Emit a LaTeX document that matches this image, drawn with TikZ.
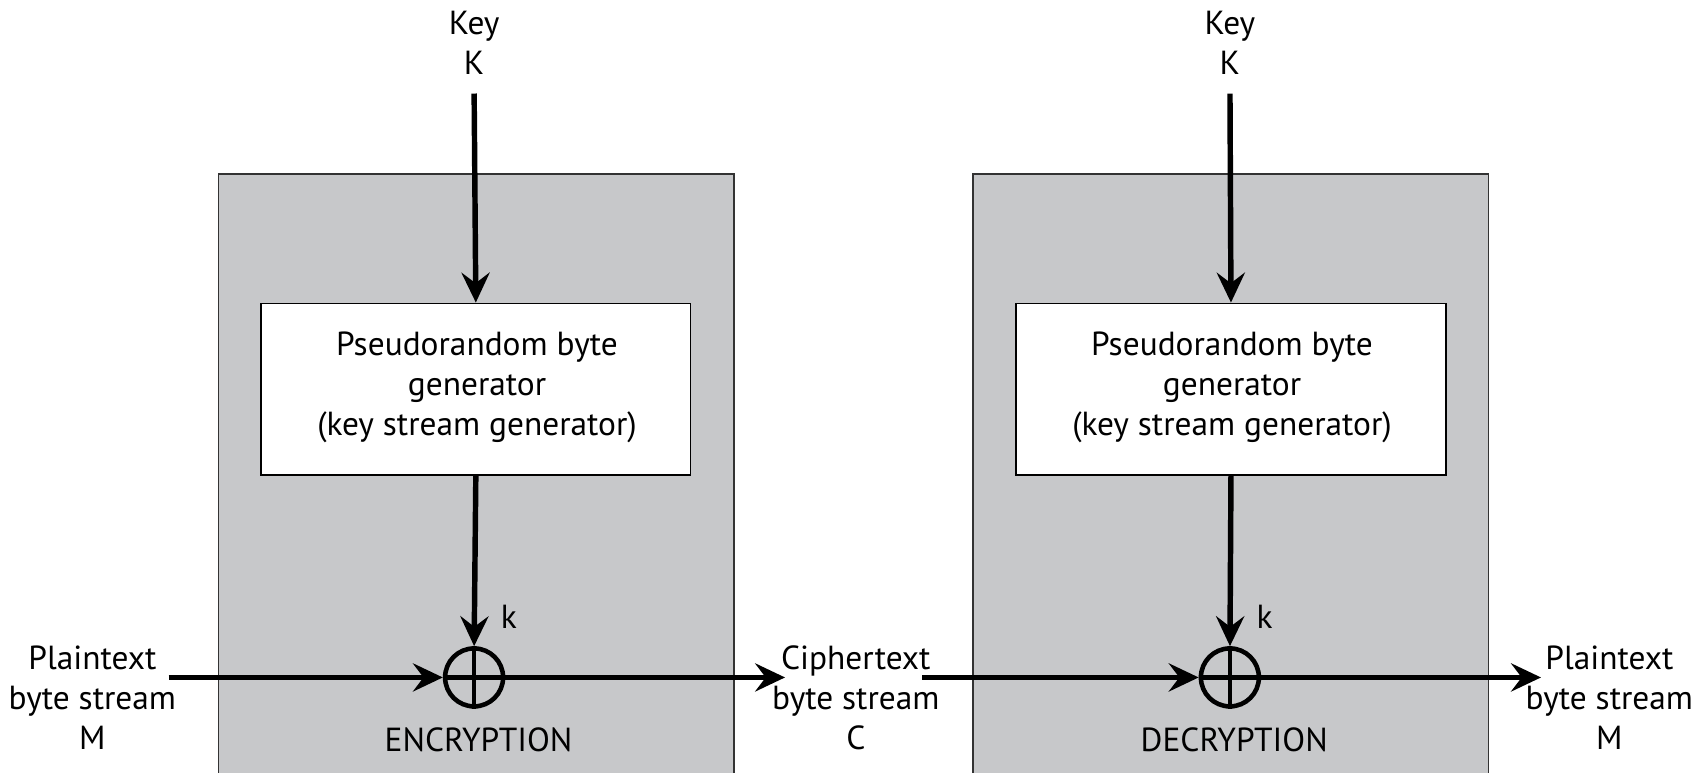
\documentclass[tikz,border=0pt]{standalone}
\usepackage{fontspec}
\setmainfont{PT Sans}
\usetikzlibrary{arrows.meta}
\definecolor{boxgray}{RGB}{199,200,202}

\begin{document}
\begin{tikzpicture}[scale=0.1,
    font=\fontsize{9.5}{11.4}\selectfont,
    flow/.style={line width=1.55pt,-{Stealth[length=8.5pt,width=8pt,inset=3pt]}},
    genbox/.style={draw,line width=0.5pt,fill=white,minimum width=4.295cm,minimum height=1.718cm,align=center},
    xorop/.style={draw,circle,line width=1.3pt,minimum size=0.58cm},
    lbl/.style={align=center}]
    \tikzstyle{every node}+=[inner sep=0pt]
    \useasboundingbox (0,0) rectangle (170.5,-77.2);
    % shaded units
    \filldraw [fill=boxgray,draw=black!80,line width=0.5pt] (21.86,-17.4) rectangle (73.4,-78);
    \filldraw [fill=boxgray,draw=black!80,line width=0.5pt] (97.32,-17.4) rectangle (148.86,-78);
    % encryption side
    \node [lbl] (keyE) at (47.41,-4.3) {Key\\K};
    \coordinate (keyEtop) at (47.41,-9.35);
    \node [genbox] (genE) at (47.58,-38.93) {};
    \node [lbl] at (47.7,-38.75) {Pseudorandom byte\\generator\\(key stream generator)};
    \node [xorop] (xorE) at (47.41,-67.74) {};
    \draw [line width=1.3pt] (xorE.north) -- (xorE.south) (xorE.west) -- (xorE.east);
    \node (kE) at (50.89,-61.66) {k};
    \node [lbl] (ptIn) at (9.24,-69.81) {Plaintext\\byte stream\\M};
    \coordinate (ptInEnd) at (16.85,-67.74);
    \node (encLbl) at (47.85,-73.94) {ENCRYPTION};
    \coordinate (ctEnd) at (78.5,-67.74);
    \node [lbl] (ct) at (85.58,-69.81) {Ciphertext\\byte stream\\C};
    \draw [flow] (keyEtop) -- (genE.north);
    \draw [flow] (genE.south) -- (xorE.north);
    \draw [flow] (ptInEnd) -- (xorE.west);
    \draw [flow] (xorE.east) -- (ctEnd);
    % decryption side
    \node [lbl] (keyD) at (122.99,-4.3) {Key\\K};
    \coordinate (keyDtop) at (122.99,-9.35);
    \node [genbox] (genD) at (123.09,-38.93) {};
    \node [lbl] at (123.2,-38.75) {Pseudorandom byte\\generator\\(key stream generator)};
    \node [xorop] (xorD) at (122.99,-67.74) {};
    \draw [line width=1.3pt] (xorD.north) -- (xorD.south) (xorD.west) -- (xorD.east);
    \node (kD) at (126.47,-61.66) {k};
    \coordinate (ctStart) at (92.21,-67.74);
    \node (decLbl) at (123.42,-73.94) {DECRYPTION};
    \coordinate (ptOutEnd) at (154.09,-67.74);
    \node [lbl] (ptOut) at (160.94,-69.81) {Plaintext\\byte stream\\M};
    \draw [flow] (keyDtop) -- (genD.north);
    \draw [flow] (genD.south) -- (xorD.north);
    \draw [flow] (ctStart) -- (xorD.west);
    \draw [flow] (xorD.east) -- (ptOutEnd);
\end{tikzpicture}
\end{document}
